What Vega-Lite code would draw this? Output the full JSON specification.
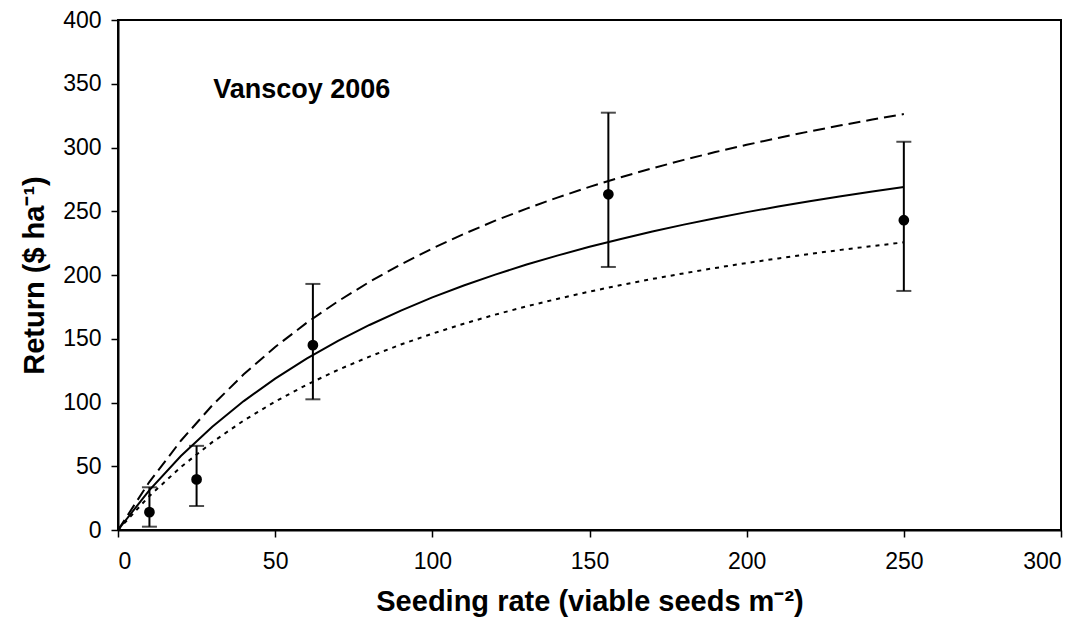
{
  "$schema": "https://vega.github.io/schema/vega-lite/v6.json",
  "width": 943,
  "height": 510,
  "autosize": {"type": "none"},
  "padding": {"left": 118, "top": 20, "right": 30, "bottom": 104},
  "background": "white",
  "config": {
    "font": "Liberation Sans",
    "view": {"stroke": "black", "strokeWidth": 2},
    "axis": {
      "grid": false,
      "domainColor": "black",
      "domainWidth": 2,
      "tickColor": "black",
      "tickWidth": 1.5,
      "tickSize": 7,
      "labelFont": "Liberation Sans",
      "labelFontSize": 23,
      "labelColor": "black",
      "titleFont": "Liberation Sans",
      "titleFontSize": 29,
      "titleFontWeight": "bold",
      "titleColor": "black"
    }
  },
  "datasets": {
    "curves": [
      {"x": 0, "y": 0, "series": "solid"},
      {"x": 10, "y": 31.3, "series": "solid"},
      {"x": 20, "y": 58.0, "series": "solid"},
      {"x": 30, "y": 81.0, "series": "solid"},
      {"x": 40, "y": 101.1, "series": "solid"},
      {"x": 50, "y": 118.7, "series": "solid"},
      {"x": 60, "y": 134.4, "series": "solid"},
      {"x": 70, "y": 148.3, "series": "solid"},
      {"x": 80, "y": 160.8, "series": "solid"},
      {"x": 90, "y": 172.1, "series": "solid"},
      {"x": 100, "y": 182.4, "series": "solid"},
      {"x": 110, "y": 191.8, "series": "solid"},
      {"x": 120, "y": 200.3, "series": "solid"},
      {"x": 130, "y": 208.2, "series": "solid"},
      {"x": 140, "y": 215.4, "series": "solid"},
      {"x": 150, "y": 222.1, "series": "solid"},
      {"x": 160, "y": 228.3, "series": "solid"},
      {"x": 170, "y": 234.1, "series": "solid"},
      {"x": 180, "y": 239.5, "series": "solid"},
      {"x": 190, "y": 244.5, "series": "solid"},
      {"x": 200, "y": 249.3, "series": "solid"},
      {"x": 210, "y": 253.7, "series": "solid"},
      {"x": 220, "y": 257.9, "series": "solid"},
      {"x": 230, "y": 261.8, "series": "solid"},
      {"x": 240, "y": 265.5, "series": "solid"},
      {"x": 250, "y": 269.0, "series": "solid"},
      {"x": 0, "y": 0, "series": "dashed"},
      {"x": 10, "y": 37.8, "series": "dashed"},
      {"x": 20, "y": 70.0, "series": "dashed"},
      {"x": 30, "y": 97.8, "series": "dashed"},
      {"x": 40, "y": 122.1, "series": "dashed"},
      {"x": 50, "y": 143.5, "series": "dashed"},
      {"x": 60, "y": 162.5, "series": "dashed"},
      {"x": 70, "y": 179.4, "series": "dashed"},
      {"x": 80, "y": 194.6, "series": "dashed"},
      {"x": 90, "y": 208.3, "series": "dashed"},
      {"x": 100, "y": 220.8, "series": "dashed"},
      {"x": 110, "y": 232.2, "series": "dashed"},
      {"x": 120, "y": 242.6, "series": "dashed"},
      {"x": 130, "y": 252.1, "series": "dashed"},
      {"x": 140, "y": 260.9, "series": "dashed"},
      {"x": 150, "y": 269.1, "series": "dashed"},
      {"x": 160, "y": 276.7, "series": "dashed"},
      {"x": 170, "y": 283.7, "series": "dashed"},
      {"x": 180, "y": 290.3, "series": "dashed"},
      {"x": 190, "y": 296.4, "series": "dashed"},
      {"x": 200, "y": 302.1, "series": "dashed"},
      {"x": 210, "y": 307.5, "series": "dashed"},
      {"x": 220, "y": 312.6, "series": "dashed"},
      {"x": 230, "y": 317.4, "series": "dashed"},
      {"x": 240, "y": 321.9, "series": "dashed"},
      {"x": 250, "y": 326.2, "series": "dashed"},
      {"x": 0, "y": 0, "series": "dotted"},
      {"x": 10, "y": 26.7, "series": "dotted"},
      {"x": 20, "y": 49.4, "series": "dotted"},
      {"x": 30, "y": 68.9, "series": "dotted"},
      {"x": 40, "y": 85.9, "series": "dotted"},
      {"x": 50, "y": 100.7, "series": "dotted"},
      {"x": 60, "y": 113.9, "series": "dotted"},
      {"x": 70, "y": 125.6, "series": "dotted"},
      {"x": 80, "y": 136.0, "series": "dotted"},
      {"x": 90, "y": 145.5, "series": "dotted"},
      {"x": 100, "y": 154.0, "series": "dotted"},
      {"x": 110, "y": 161.8, "series": "dotted"},
      {"x": 120, "y": 168.9, "series": "dotted"},
      {"x": 130, "y": 175.4, "series": "dotted"},
      {"x": 140, "y": 181.4, "series": "dotted"},
      {"x": 150, "y": 187.0, "series": "dotted"},
      {"x": 160, "y": 192.1, "series": "dotted"},
      {"x": 170, "y": 196.9, "series": "dotted"},
      {"x": 180, "y": 201.3, "series": "dotted"},
      {"x": 190, "y": 205.5, "series": "dotted"},
      {"x": 200, "y": 209.4, "series": "dotted"},
      {"x": 210, "y": 213.0, "series": "dotted"},
      {"x": 220, "y": 216.5, "series": "dotted"},
      {"x": 230, "y": 219.7, "series": "dotted"},
      {"x": 240, "y": 222.7, "series": "dotted"},
      {"x": 250, "y": 225.6, "series": "dotted"}
    ],
    "obs": [
      {"x": 10, "mean": 14, "lo": 2.6, "hi": 33.5},
      {"x": 25, "mean": 39.7, "lo": 18.8, "hi": 66},
      {"x": 62, "mean": 145, "lo": 102.5, "hi": 193},
      {"x": 156, "mean": 263.3, "lo": 206.3, "hi": 327.3},
      {"x": 250, "mean": 243, "lo": 187.5, "hi": 304.5}
    ],
    "note": [
      {"x": 30.3, "y": 345, "label": "Vanscoy 2006"}
    ]
  },
  "encoding": {
    "x": {
      "field": "x",
      "type": "quantitative",
      "scale": {"domain": [0, 300], "nice": false, "zero": true},
      "axis": {
        "values": [0, 50, 100, 150, 200, 250, 300],
        "title": "Seeding rate (viable seeds m⁻²)",
        "labelPadding": 13,
        "titlePadding": 14
      }
    }
  },
  "layer": [
    {
      "data": {"name": "curves"},
      "transform": [{"filter": "datum.series == 'solid'"}],
      "mark": {"type": "line", "color": "black", "strokeWidth": 2},
      "encoding": {
        "y": {
          "field": "y",
          "type": "quantitative",
          "scale": {"domain": [0, 400], "nice": false},
          "axis": {
            "values": [0, 50, 100, 150, 200, 250, 300, 350, 400],
            "title": "Return ($ ha⁻¹)",
            "labelPadding": 10,
            "titlePadding": 13
          }
        }
      }
    },
    {
      "data": {"name": "curves"},
      "transform": [{"filter": "datum.series == 'dashed'"}],
      "mark": {"type": "line", "color": "black", "strokeWidth": 2, "strokeDash": [12, 6]},
      "encoding": {"y": {"field": "y", "type": "quantitative"}}
    },
    {
      "data": {"name": "curves"},
      "transform": [{"filter": "datum.series == 'dotted'"}],
      "mark": {"type": "line", "color": "black", "strokeWidth": 2, "strokeDash": [4, 5]},
      "encoding": {"y": {"field": "y", "type": "quantitative"}}
    },
    {
      "data": {"name": "obs"},
      "mark": {"type": "rule", "color": "black", "strokeWidth": 2},
      "encoding": {
        "y": {"field": "lo", "type": "quantitative"},
        "y2": {"field": "hi"}
      }
    },
    {
      "data": {"name": "obs"},
      "mark": {"type": "tick", "orient": "horizontal", "color": "black", "size": 15, "thickness": 2},
      "encoding": {"y": {"field": "lo", "type": "quantitative"}}
    },
    {
      "data": {"name": "obs"},
      "mark": {"type": "tick", "orient": "horizontal", "color": "black", "size": 15, "thickness": 2},
      "encoding": {"y": {"field": "hi", "type": "quantitative"}}
    },
    {
      "data": {"name": "obs"},
      "mark": {"type": "point", "shape": "circle", "filled": true, "color": "black", "size": 115, "opacity": 1},
      "encoding": {"y": {"field": "mean", "type": "quantitative"}}
    },
    {
      "data": {"name": "note"},
      "mark": {"type": "text", "align": "left", "baseline": "middle", "font": "Liberation Sans", "fontSize": 27, "fontWeight": "bold", "color": "black"},
      "encoding": {
        "y": {"field": "y", "type": "quantitative"},
        "text": {"field": "label"}
      }
    }
  ]
}
